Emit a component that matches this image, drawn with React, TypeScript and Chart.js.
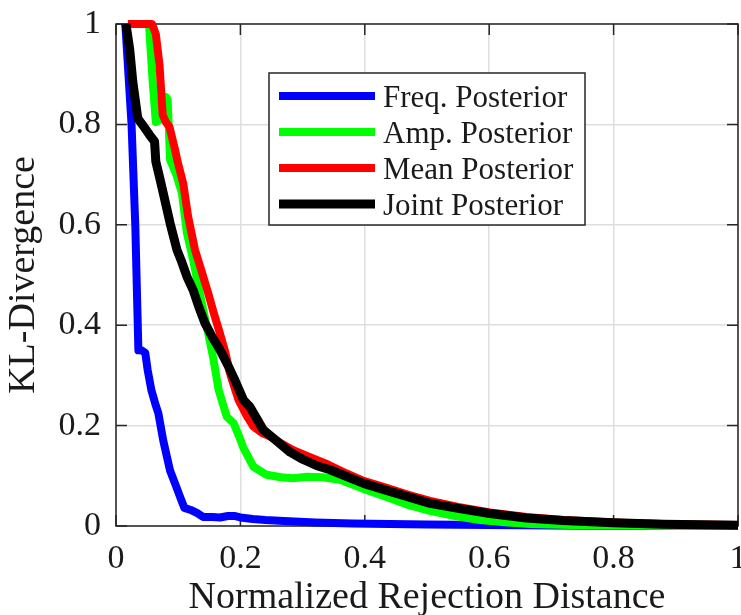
import React, { useEffect, useRef } from "react";
import { Chart, registerables } from "chart.js";

Chart.register(...registerables);

// ---------- data ----------
const seriesNames = ["Freq. Posterior", "Amp. Posterior", "Mean Posterior", "Joint Posterior"];
const seriesColors = ["#0000ff", "#00ff00", "#ff0000", "#000000"];

const xTickLabels = ["0", "0.2", "0.4", "0.6", "0.8", "1"];
const yTickLabels = ["0", "0.2", "0.4", "0.6", "0.8", "1"];

const freqX = [0.015, 0.025, 0.031, 0.034, 0.036, 0.041, 0.047, 0.051, 0.057, 0.064, 0.068, 0.076, 0.087, 0.097, 0.103, 0.110, 0.120, 0.130, 0.140, 0.155, 0.167, 0.180, 0.190, 0.200, 0.220, 0.240, 0.270, 0.320, 0.380, 0.440, 0.500, 0.600, 0.700, 0.850, 1.000];
const freqY = [1.000, 0.800, 0.600, 0.450, 0.350, 0.350, 0.345, 0.310, 0.270, 0.240, 0.225, 0.170, 0.110, 0.078, 0.058, 0.036, 0.032, 0.026, 0.018, 0.018, 0.017, 0.020, 0.020, 0.017, 0.014, 0.012, 0.010, 0.007, 0.005, 0.004, 0.003, 0.002, 0.001, 0.000, 0.000];

const ampX = [0.020, 0.053, 0.059, 0.064, 0.072, 0.080, 0.083, 0.087, 0.097, 0.106, 0.114, 0.124, 0.135, 0.146, 0.156, 0.165, 0.178, 0.189, 0.199, 0.205, 0.221, 0.242, 0.265, 0.285, 0.307, 0.333, 0.360, 0.398, 0.435, 0.470, 0.505, 0.545, 0.585, 0.630, 0.666, 0.730, 0.800, 0.900, 1.000];
const ampY = [1.000, 1.000, 0.885, 0.805, 0.810, 0.855, 0.850, 0.729, 0.700, 0.663, 0.584, 0.530, 0.462, 0.397, 0.337, 0.271, 0.218, 0.205, 0.175, 0.155, 0.118, 0.102, 0.097, 0.095, 0.098, 0.097, 0.092, 0.074, 0.058, 0.042, 0.030, 0.020, 0.012, 0.007, 0.004, 0.002, 0.001, 0.000, 0.000];

const meanX = [0.019, 0.058, 0.064, 0.070, 0.075, 0.080, 0.086, 0.095, 0.099, 0.108, 0.116, 0.127, 0.137, 0.148, 0.157, 0.167, 0.176, 0.183, 0.190, 0.197, 0.210, 0.221, 0.235, 0.248, 0.265, 0.285, 0.310, 0.340, 0.370, 0.398, 0.435, 0.470, 0.505, 0.550, 0.601, 0.660, 0.719, 0.800, 0.880, 1.000];
const meanY = [1.000, 1.000, 0.980, 0.918, 0.819, 0.805, 0.795, 0.749, 0.726, 0.683, 0.616, 0.550, 0.510, 0.465, 0.425, 0.384, 0.345, 0.305, 0.278, 0.251, 0.220, 0.198, 0.185, 0.178, 0.165, 0.151, 0.138, 0.123, 0.105, 0.090, 0.076, 0.062, 0.050, 0.038, 0.027, 0.018, 0.012, 0.007, 0.004, 0.002];

const jointX = [0.016, 0.022, 0.027, 0.035, 0.045, 0.054, 0.062, 0.064, 0.070, 0.076, 0.087, 0.098, 0.106, 0.114, 0.124, 0.133, 0.143, 0.155, 0.167, 0.180, 0.191, 0.205, 0.215, 0.237, 0.258, 0.280, 0.300, 0.323, 0.344, 0.360, 0.398, 0.435, 0.470, 0.505, 0.550, 0.601, 0.660, 0.719, 0.800, 0.880, 1.000];
const jointY = [1.000, 0.950, 0.885, 0.812, 0.795, 0.779, 0.766, 0.726, 0.695, 0.663, 0.603, 0.550, 0.525, 0.497, 0.470, 0.437, 0.404, 0.376, 0.351, 0.320, 0.291, 0.251, 0.238, 0.191, 0.170, 0.147, 0.133, 0.120, 0.112, 0.104, 0.085, 0.071, 0.058, 0.045, 0.035, 0.025, 0.016, 0.011, 0.0066, 0.0034, 0.0014];

const seriesX = [freqX, ampX, meanX, jointX];
const seriesY = [freqY, ampY, meanY, jointY];
const seriesWidths = [8, 8, 8, 9];

// ---------- styles ----------
const SERIF = "'Liberation Serif', 'Times New Roman', Times, serif";
const TEXT = "#1a1a1a";
const AXIS = "#262626";

const boxPlugin = {
  id: "matlabBox",
  beforeDatasetsDraw(chart: any) {
    const { ctx, chartArea: a, scales } = chart;
    const x = scales.x;
    const y = scales.y;
    const L = 11;
    ctx.save();
    ctx.strokeStyle = AXIS;
    ctx.lineWidth = 1.5;
    ctx.strokeRect(a.left, a.top, a.right - a.left, a.bottom - a.top);
    ctx.beginPath();
    x.ticks.forEach((t: any) => {
      const px = x.getPixelForValue(t.value);
      ctx.moveTo(px, a.bottom);
      ctx.lineTo(px, a.bottom - L);
      ctx.moveTo(px, a.top);
      ctx.lineTo(px, a.top + L);
    });
    y.ticks.forEach((t: any) => {
      const py = y.getPixelForValue(t.value);
      ctx.moveTo(a.left, py);
      ctx.lineTo(a.left + L, py);
      ctx.moveTo(a.right, py);
      ctx.lineTo(a.right - L, py);
    });
    ctx.stroke();
    ctx.restore();
  },
};

const legendPlugin = {
  id: "boxLegend",
  afterDatasetsDraw(chart: any) {
    const { ctx, chartArea: a } = chart;
    const left = a.left + 153;
    const top = a.top + 49;
    const w = 316;
    const h = 152;
    ctx.save();
    ctx.fillStyle = "#ffffff";
    ctx.fillRect(left, top, w, h);
    ctx.strokeStyle = AXIS;
    ctx.lineWidth = 1.5;
    ctx.strokeRect(left, top, w, h);
    ctx.font = `31px ${SERIF}`;
    ctx.textBaseline = "alphabetic";
    ctx.textAlign = "left";
    chart.data.datasets.forEach((ds: any, i: number) => {
      const cy = top + 23 + i * 36;
      ctx.strokeStyle = ds.borderColor;
      ctx.lineWidth = ds.borderWidth;
      ctx.beginPath();
      ctx.moveTo(left + 10, cy);
      ctx.lineTo(left + 106, cy);
      ctx.stroke();
      ctx.fillStyle = TEXT;
      ctx.fillText(ds.label, left + 114, cy + 11);
    });
    ctx.restore();
  },
};

export default function App() {
  const ref = useRef<HTMLCanvasElement>(null);

  useEffect(() => {
    if (!ref.current) return;
    const datasets = seriesNames.map((name, i) => ({
      label: name,
      data: seriesX[i].map((xv, j) => ({ x: xv, y: seriesY[i][j] })),
      borderColor: seriesColors[i],
      backgroundColor: seriesColors[i],
      borderWidth: seriesWidths[i],
      pointRadius: 0,
      tension: 0,
      fill: false,
      clip: false as any,
      borderJoinStyle: "round" as const,
      borderCapStyle: "butt" as const,
      order: seriesNames.length - i,
    }));

    const chart = new Chart(ref.current, {
      type: "line",
      data: { datasets },
      options: {
        responsive: false,
        animation: false,
        events: [],
        layout: { padding: { top: 24, right: 3, left: 0, bottom: 0 } },
        plugins: {
          legend: { display: false },
          tooltip: { enabled: false },
        },
        scales: {
          x: {
            type: "linear",
            min: 0,
            max: 1,
            border: { display: false },
            grid: { color: "#dedede", lineWidth: 1.5, drawTicks: false },
            ticks: {
              stepSize: 0.2,
              padding: 13,
              color: TEXT,
              font: { family: SERIF, size: 34 },
              maxRotation: 0,
              callback: (_v: any, idx: number) => xTickLabels[idx],
            },
            title: {
              display: true,
              text: "Normalized Rejection Distance",
              color: TEXT,
              font: { family: SERIF, size: 38, lineHeight: 0.9 },
              padding: { top: 0, bottom: 0 },
            },
            afterFit: (s: any) => {
              s.height = 89;
              s.paddingLeft = 0;
              s.paddingRight = 0;
              s.paddingTop = 0;
              s.paddingBottom = 0;
            },
          },
          y: {
            type: "linear",
            min: 0,
            max: 1,
            border: { display: false },
            grid: { color: "#dedede", lineWidth: 1.5, drawTicks: false },
            ticks: {
              stepSize: 0.2,
              padding: 15,
              color: TEXT,
              font: { family: SERIF, size: 34 },
              callback: (_v: any, idx: number) => yTickLabels[idx],
            },
            title: {
              display: true,
              text: "KL-Divergence",
              color: TEXT,
              font: { family: SERIF, size: 38 },
              padding: { top: 1, bottom: 0 },
            },
            afterFit: (s: any) => {
              s.width = 116;
              s.paddingLeft = 0;
              s.paddingRight = 0;
              s.paddingTop = 0;
              s.paddingBottom = 0;
            },
          },
        },
      },
      plugins: [boxPlugin, legendPlugin],
    });
    return () => chart.destroy();
  }, []);

  return (
    <div style={{ position: "absolute", left: 0, top: 0, width: 741, height: 615, background: "#ffffff" }}>
      <canvas ref={ref} width={741} height={615} style={{ display: "block" }} />
    </div>
  );
}
